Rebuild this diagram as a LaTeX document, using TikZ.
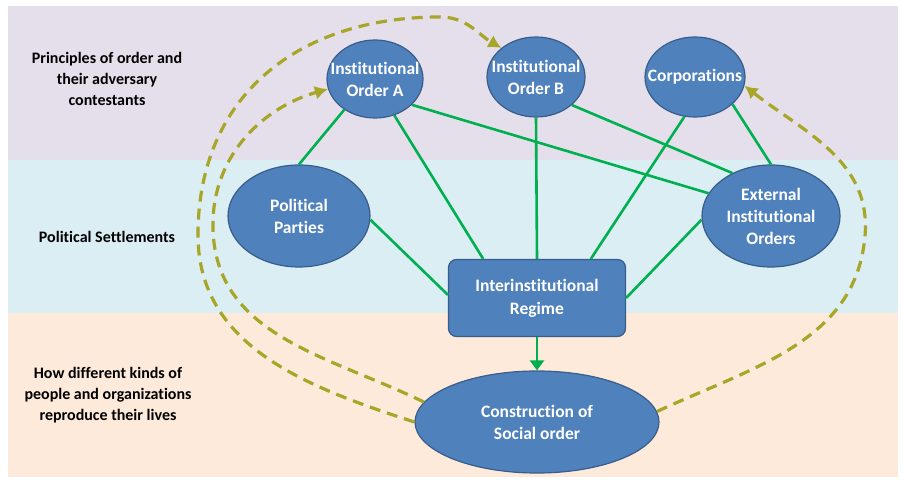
\documentclass[tikz,border=0pt]{standalone}
\usepackage{fontspec}
\setmainfont{Carlito}[Ligatures={NoCommon,NoContextual}]
\usetikzlibrary{shapes.geometric,arrows.meta}

\definecolor{bandTop}{HTML}{E5DFEC}
\definecolor{bandMid}{HTML}{DBEEF4}
\definecolor{bandLow}{HTML}{FDEADA}
\definecolor{nodeFill}{HTML}{4F81BD}
\definecolor{nodeEdge}{HTML}{385D8A}
\definecolor{linkGreen}{HTML}{00B050}
\definecolor{loopOlive}{HTML}{A8A628}

\tikzset{
  order/.style={ellipse, fill=nodeFill, draw=nodeEdge, line width=1.2pt,
    inner sep=-40pt, text=white, align=center,
    font=\fontsize{17.5}{22}\selectfont\bfseries},
  regimebox/.style={rectangle, rounded corners=8pt, fill=nodeFill, draw=nodeEdge,
    line width=1.2pt, text=white, align=center,
    minimum width=177pt, minimum height=77pt,
    font=\fontsize{17.5}{23}\selectfont\bfseries},
  levelnote/.style={align=center, font=\fontsize{16}{21}\selectfont\bfseries},
  link/.style={linkGreen, line width=2.6pt},
  loopback/.style={loopOlive, line width=3.2pt, dash pattern=on 11pt off 7pt,
    -{Latex[length=13pt,width=14pt]}}
}

\begin{document}
\begin{tikzpicture}[x=1pt, y=1pt]
  \useasboundingbox (0,0) rectangle (904,479);

  % three levels as background bands
  \fill[bandTop] (8,319) rectangle (898,473);
  \fill[bandMid] (8,166) rectangle (898,319);
  \fill[bandLow] (8,2) rectangle (898,166);

  % level labels
  \node[levelnote] (noteTop) at (107,400) {Principles of order and\\their adversary\\contestants};
  \node[levelnote] (noteMid) at (107,242) {Political Settlements};
  \node[levelnote] (noteLow) at (108,84) {How different kinds of\\people and organizations\\reproduce their lives};

  % orders and actors
  \node[order, minimum width=96pt, minimum height=78pt] (ordA) at (375,400) {Institutional\\Order A};
  \node[order, minimum width=98pt, minimum height=80pt] (ordB) at (536,402) {Institutional\\Order B};
  \node[order, minimum width=100pt, minimum height=80pt] (corp) at (695,402) {Corporations};
  \node[order, minimum width=142pt, minimum height=102pt] (party) at (299,263) {Political\\Parties};
  \node[order, minimum width=138pt, minimum height=102pt] (ext) at (771,263) {External\\Institutional\\Orders};
  \node[regimebox] (regime) at (537,181) {Interinstitutional\\Regime};
  \node[order, minimum width=244pt, minimum height=102pt] (soc) at (537,57) {Construction of\\Social order};

  % green ties
  \foreach \a/\b in {ordA.225/party.north, ordA.-62/regime.144, ordA.-35/ext.160,
      ordB.south/regime.north, ordB.-38/ext.132, corp.-105/regime.36,
      corp.-36/ext.north, party.-3/regime.178, ext.183/regime.east} {
    \draw[link] (\a) -- (\b);
  }
  \draw[link, -{Triangle[length=10pt,width=14pt]}] (regime.south) -- (soc.north);

  % feedback loops
  \draw[loopback] (soc.west) to[out=162, in=-90] (198,244)
    to[out=90, in=180, looseness=1.1] (440,462) to[out=0, in=150] (ordB.140);
  \draw[loopback] (soc.170) to[out=154, in=-88] (213,249)
    to[out=92, in=196] (ordA.192);
  \draw[loopback] (soc.5) to[out=25, in=-95] (865,243)
    to[out=85, in=-38] (corp.-10);
\end{tikzpicture}
\end{document}
